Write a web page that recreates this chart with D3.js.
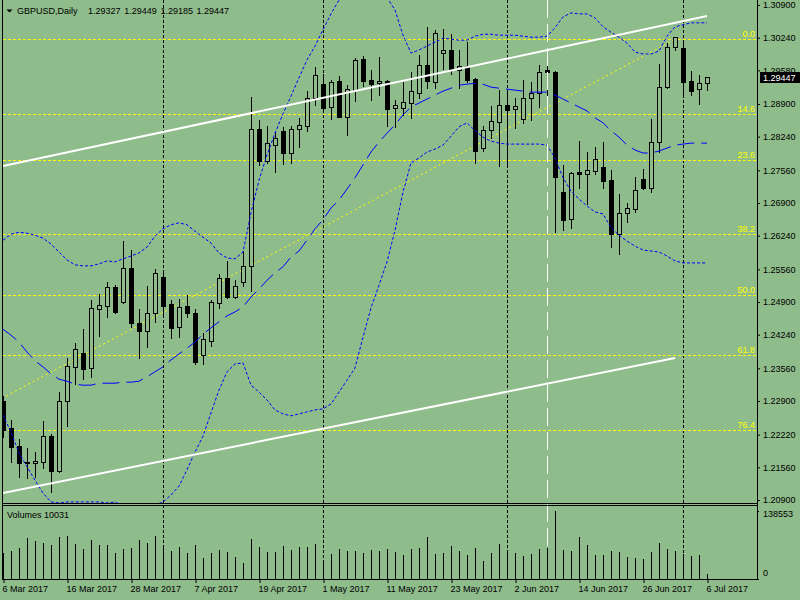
<!DOCTYPE html>
<html>
<head>
<meta charset="utf-8">
<script src="https://cdn.jsdelivr.net/npm/d3@7"></script>
<style>
  body { margin: 0; background: #8fbc8b; }
  svg { display: block; font-family: "Liberation Sans", Arial, sans-serif; font-size: 9px; }
</style>
</head>
<body>
<svg id="chart" width="800" height="600"></svg>
<script>
// GBPUSD daily bars, 6 Mar 2017 .. 6 Jul 2017
var opens = [1.22900,1.22355,1.21991,1.21668,1.21648,1.21668,1.22193,1.21486,1.22900,1.23587,
  1.23870,1.23567,1.24759,1.24819,1.25203,1.24900,1.25587,1.24476,1.24314,1.24678,
  1.25405,1.24860,1.24395,1.24819,1.24678,1.23829,1.24112,1.24880,1.25385,1.25001,
  1.25304,1.25627,1.28395,1.27749,1.28072,1.28355,1.27910,1.28395,1.28456,1.29021,
  1.29304,1.28839,1.29365,1.28637,1.29183,1.29809,1.29385,1.29324,1.29365,1.28819,
  1.28819,1.28920,1.29122,1.29688,1.29344,1.29930,1.29991,1.29587,1.29668,1.29405,
  1.28011,1.28375,1.28536,1.28880,1.28799,1.28597,1.29021,1.29122,1.29587,1.29547,
  1.27122,1.26577,1.27526,1.27486,1.27547,1.27627,1.27365,1.26274,1.26698,1.26779,
  1.27385,1.27203,1.28132,1.29243,1.30052,1.30031,1.29365,1.29203,1.29327];
var highs = [1.23001,1.22516,1.22132,1.21950,1.21870,1.22496,1.22233,1.23082,1.23769,1.24072,
  1.24355,1.24940,1.25062,1.25304,1.25243,1.26132,1.25951,1.24759,1.25223,1.25567,
  1.25547,1.24940,1.24961,1.25041,1.24759,1.24274,1.24940,1.25466,1.25728,1.25344,
  1.25930,1.29041,1.28577,1.28456,1.28334,1.28435,1.28456,1.28617,1.29163,1.29648,
  1.29506,1.29385,1.29466,1.29284,1.29829,1.29870,1.29587,1.29850,1.29385,1.28981,
  1.29344,1.29547,1.29890,1.30456,1.30395,1.30415,1.30314,1.29991,1.30153,1.29425,
  1.28456,1.28860,1.29183,1.29142,1.29021,1.29385,1.29344,1.29688,1.29749,1.29567,
  1.27668,1.27526,1.28153,1.27930,1.28031,1.28132,1.27567,1.27082,1.26900,1.27425,
  1.27587,1.28597,1.29708,1.30132,1.30254,1.30193,1.29567,1.29486,1.29449];
var lows = [1.22173,1.21668,1.21365,1.21344,1.21365,1.21547,1.21062,1.21466,1.22395,1.23243,
  1.23344,1.23385,1.24213,1.24597,1.24678,1.24880,1.24395,1.23769,1.23991,1.24496,
  1.24597,1.24173,1.24193,1.24597,1.23648,1.23648,1.24011,1.24779,1.24981,1.24981,
  1.25223,1.25122,1.27668,1.27708,1.27526,1.27688,1.27708,1.28031,1.28355,1.28880,
  1.28779,1.28597,1.28637,1.28274,1.28961,1.29264,1.28981,1.29082,1.28456,1.28435,
  1.28678,1.28617,1.29021,1.29223,1.29223,1.29607,1.29506,1.29223,1.29344,1.27708,
  1.27951,1.28213,1.27648,1.27627,1.28415,1.28516,1.28577,1.28839,1.29041,1.26314,
  1.26355,1.26395,1.27203,1.26880,1.27486,1.27203,1.26011,1.25870,1.26516,1.26718,
  1.27183,1.27122,1.27930,1.29223,1.29991,1.29082,1.29082,1.28900,1.29185];
var closes = [1.22314,1.21971,1.21648,1.21648,1.21688,1.22193,1.21486,1.22900,1.23607,1.23951,
  1.23547,1.24779,1.24839,1.25203,1.24698,1.25587,1.24476,1.24314,1.24678,1.25486,
  1.24819,1.24375,1.24799,1.24678,1.23688,1.24153,1.24900,1.25385,1.25001,1.25223,
  1.25627,1.28395,1.27749,1.28112,1.28213,1.27910,1.28395,1.28476,1.29021,1.29486,
  1.28819,1.29344,1.28637,1.29203,1.29789,1.29365,1.29304,1.29365,1.28799,1.28880,
  1.28940,1.29163,1.29688,1.29365,1.30334,1.29991,1.29587,1.29668,1.29385,1.27951,
  1.28375,1.28557,1.28880,1.28779,1.28860,1.29021,1.29122,1.29547,1.29547,1.27425,
  1.26557,1.27506,1.27486,1.27567,1.27789,1.27344,1.26274,1.26698,1.26799,1.27163,
  1.27203,1.28132,1.29243,1.30052,1.30254,1.29344,1.29163,1.29324,1.29447];
var volumes = [53600,57000,63200,84100,77400,74000,69300,86200,87600,71300,
  61100,79500,69300,69300,53600,61100,63200,79500,74000,87600,
  63200,57000,65200,53600,69300,42800,53600,59100,55000,44800,
  33200,81500,65200,55000,55000,67200,59100,65200,65200,71300,
  38700,50900,61100,57000,57000,53000,59100,57000,61100,55000,
  48900,61100,63200,85600,50900,53000,67200,57000,48900,63200,
  36700,53000,71300,55600,53000,46900,50900,61100,63200,138553,
  59100,57000,85600,69300,48900,48900,57000,55000,44800,42800,
  40800,55000,73400,61100,57000,50900,46900,48900,10031];

// Bollinger bands as drawn
var upperBand = [1.2615,1.2627,1.2631,1.2629,1.2625,1.2619,1.2607,1.2591,1.2575,1.2565,
  1.2563,1.2563,1.2567,1.2573,1.2571,1.2577,1.2583,1.2589,1.2601,1.2623,
  1.2638,1.2646,1.2650,1.2646,1.2633,1.2621,1.2609,1.2589,1.2579,1.2577,
  1.2591,1.2670,1.2736,1.2787,1.2831,1.2870,1.2906,1.2943,1.2979,1.3007,
  1.3040,1.3072,1.3100,1.3120,1.3135,1.3140,1.3135,1.3122,1.3105,1.3080,
  1.3029,1.2993,1.2999,1.3007,1.3015,1.3023,1.3021,1.3019,1.3019,1.3027,
  1.3031,1.3031,1.3029,1.3029,1.3029,1.3027,1.3025,1.3025,1.3027,1.3044,
  1.3066,1.3074,1.3072,1.3072,1.3064,1.3046,1.3035,1.3025,1.3013,1.2995,
  1.2991,1.2991,1.2997,1.3027,1.3046,1.3050,1.3054,1.3054,1.3054];
var middleBand = [1.2435,1.2423,1.2409,1.2389,1.2371,1.2359,1.2345,1.2334,1.2330,1.2324,
  1.2322,1.2322,1.2326,1.2326,1.2326,1.2328,1.2328,1.2330,1.2339,1.2349,
  1.2359,1.2373,1.2385,1.2397,1.2409,1.2425,1.2438,1.2450,1.2462,1.2470,
  1.2480,1.2500,1.2516,1.2534,1.2549,1.2561,1.2581,1.2593,1.2615,1.2638,
  1.2656,1.2680,1.2696,1.2718,1.2741,1.2767,1.2793,1.2813,1.2831,1.2848,
  1.2868,1.2884,1.2892,1.2900,1.2908,1.2916,1.2922,1.2928,1.2930,1.2932,
  1.2930,1.2924,1.2922,1.2920,1.2918,1.2916,1.2914,1.2914,1.2914,1.2908,
  1.2900,1.2892,1.2884,1.2876,1.2862,1.2852,1.2836,1.2823,1.2807,1.2797,
  1.2791,1.2791,1.2795,1.2801,1.2807,1.2809,1.2811,1.2811,1.2811];
var lowerBand = [1.2262,1.2227,1.2185,1.2157,1.2130,1.2104,1.2086,1.2084,1.2086,1.2086,
  1.2086,1.2086,1.2086,1.2084,1.2086,1.2078,1.2074,1.2074,1.2076,1.2080,
  1.2086,1.2100,1.2118,1.2151,1.2187,1.2219,1.2266,1.2312,1.2349,1.2365,
  1.2367,1.2322,1.2308,1.2292,1.2272,1.2264,1.2260,1.2264,1.2268,1.2272,
  1.2274,1.2284,1.2308,1.2332,1.2357,1.2419,1.2478,1.2524,1.2571,1.2635,
  1.2712,1.2771,1.2781,1.2793,1.2799,1.2807,1.2825,1.2844,1.2852,1.2836,
  1.2823,1.2815,1.2811,1.2809,1.2809,1.2809,1.2809,1.2809,1.2807,1.2781,
  1.2741,1.2714,1.2698,1.2684,1.2672,1.2668,1.2640,1.2625,1.2613,1.2603,
  1.2595,1.2593,1.2591,1.2583,1.2573,1.2569,1.2569,1.2569,1.2569];

// fibonacci retracement and trend lines (bar index, price)
var fibLabels = ["0.0", "14.6", "23.6", "38.2", "50.0", "61.8", "76.4"];
var fibPrices = [1.30207, 1.28692, 1.27763, 1.26268, 1.25035, 1.23823, 1.22308];
var fibLine = [[-36, 1.19864], [84, 1.30207]];
var channelTop = [[0, 1.27647], [88, 1.30678]];
var channelBottom = [[0, 1.21041], [84, 1.23769]];

// axis labels
var priceTicks = [1.30900, 1.30240, 1.29580, 1.28900, 1.28240, 1.27560, 1.26900, 1.26240,
  1.25560, 1.24900, 1.24240, 1.23560, 1.22900, 1.22220, 1.21560, 1.20900];
var dateTickBars = [0, 8, 16, 24, 32, 40, 48, 56, 64, 72, 80, 88];
var dateTickLabels = ["6 Mar 2017", "16 Mar 2017", "28 Mar 2017", "7 Apr 2017", "19 Apr 2017",
  "1 May 2017", "11 May 2017", "23 May 2017", "2 Jun 2017", "14 Jun 2017", "26 Jun 2017", "6 Jul 2017"];
var monthStartBars = [20, 40, 63, 85];
var eventBar = 68;
var headerOHLC = ["1.29327", "1.29449", "1.29185", "1.29447"];
var lastPrice = 1.29447;
var volMax = 138553;

var bg = "#8fbc8b";
var axisX = 757, mainBottom = 503, volTop = 505, volBottom = 579;

var svg = d3.select("#chart");

var x = d3.scaleLinear().domain([0, 88]).range([3, 707]);
var y = d3.scaleLinear().domain([1.20900, 1.30900]).range([500, 5]);
var yv = d3.scaleLinear().domain([0, volMax]).range([volBottom, 511]);

function px(i) { return Math.round(x(i)) + 0.5; }
function py(v) { return Math.round(y(v)); }

svg.append("rect").attr("width", 800).attr("height", 600).attr("fill", bg);

var defs = svg.append("defs");
defs.append("clipPath").attr("id", "mainClip")
  .append("rect").attr("x", 3).attr("y", 0).attr("width", axisX - 3).attr("height", mainBottom);

// month separators and event line
svg.append("g").selectAll("line").data(monthStartBars).enter().append("line")
  .attr("x1", px).attr("x2", px)
  .attr("y1", 0).attr("y2", volBottom)
  .attr("stroke", "#000").attr("stroke-dasharray", "3,2");

var main = svg.append("g").attr("clip-path", "url(#mainClip)");

// fib levels
main.append("g").selectAll("line").data(fibPrices).enter().append("line")
  .attr("x1", 3).attr("x2", axisX)
  .attr("y1", function (d) { return py(d) + 0.5; })
  .attr("y2", function (d) { return py(d) + 0.5; })
  .attr("stroke", "#ffff00").attr("stroke-dasharray", "3,2");

main.append("line")
  .attr("x1", x(fibLine[0][0])).attr("y1", y(fibLine[0][1]))
  .attr("x2", x(fibLine[1][0])).attr("y2", y(fibLine[1][1]))
  .attr("stroke", "#ffff00").attr("stroke-dasharray", "2,3");

main.append("g").selectAll("text").data(fibPrices).enter().append("text")
  .attr("x", 755).attr("y", function (d) { return py(d) - 2; })
  .attr("text-anchor", "end").attr("fill", "#ffff00")
  .text(function (d, i) { return fibLabels[i]; });

// event vertical line (white, long dashes)
svg.append("line")
  .attr("x1", px(eventBar)).attr("x2", px(eventBar))
  .attr("y1", 0).attr("y2", volBottom)
  .attr("stroke", "#fff").attr("stroke-dasharray", "18,6");

// candles
var bars = d3.range(opens.length).map(function (i) {
  return { i: i, o: opens[i], h: highs[i], l: lows[i], c: closes[i] };
});

var candle = main.append("g").selectAll("g").data(bars).enter().append("g");

candle.append("line")
  .attr("x1", function (d) { return px(d.i); })
  .attr("x2", function (d) { return px(d.i); })
  .attr("y1", function (d) { return py(d.h); })
  .attr("y2", function (d) { return py(d.l) + 1; })
  .attr("stroke", "#000");

candle.append("rect")
  .attr("x", function (d) { return px(d.i) - 2; })
  .attr("width", 4)
  .attr("y", function (d) { return py(Math.max(d.o, d.c)) + 0.5; })
  .attr("height", function (d) { return Math.max(py(Math.min(d.o, d.c)) - py(Math.max(d.o, d.c)), 1); })
  .attr("fill", function (d) { return d.c < d.o ? "#000" : bg; })
  .attr("stroke", "#000");

// bollinger bands
var line = d3.line()
  .x(function (d, i) { return x(i); })
  .y(function (d) { return y(d); });

main.append("path").datum(upperBand).attr("d", line)
  .attr("fill", "none").attr("stroke", "#0000ff").attr("stroke-dasharray", "3,2");
main.append("path").datum(lowerBand).attr("d", line)
  .attr("fill", "none").attr("stroke", "#0000ff").attr("stroke-dasharray", "3,2");
main.append("path").datum(middleBand).attr("d", line)
  .attr("fill", "none").attr("stroke", "#0000ff").attr("stroke-dasharray", "17,7");

// channel trend lines
[channelTop, channelBottom].forEach(function (t) {
  main.append("line")
    .attr("x1", x(t[0][0])).attr("y1", y(t[0][1]))
    .attr("x2", x(t[1][0])).attr("y2", y(t[1][1]))
    .attr("stroke", "#fff").attr("stroke-width", 2);
});

// volumes
svg.append("g").selectAll("line").data(volumes).enter().append("line")
  .attr("x1", function (d, i) { return px(i); })
  .attr("x2", function (d, i) { return px(i); })
  .attr("y1", volBottom)
  .attr("y2", function (d) { return Math.round(yv(d)); })
  .attr("stroke", "#000");

// frames
var frame = svg.append("g").attr("stroke", "#000").attr("fill", "none");
frame.append("line").attr("x1", 2.5).attr("x2", 2.5).attr("y1", 0).attr("y2", volBottom + 0.5);
frame.append("line").attr("x1", axisX + 0.5).attr("x2", axisX + 0.5).attr("y1", 0).attr("y2", volBottom + 0.5);
frame.append("line").attr("x1", 2).attr("x2", axisX + 1).attr("y1", mainBottom + 0.5).attr("y2", mainBottom + 0.5);
frame.append("line").attr("x1", 2).attr("x2", axisX + 1).attr("y1", volTop + 0.5).attr("y2", volTop + 0.5);
frame.append("line").attr("x1", 2).attr("x2", axisX + 1).attr("y1", volBottom + 0.5).attr("y2", volBottom + 0.5);

// price axis
var priceAxis = svg.append("g")
  .attr("transform", "translate(" + axisX + ",0)")
  .call(d3.axisRight(y).tickValues(priceTicks).tickSize(3).tickPadding(3)
    .tickFormat(d3.format(".5f")));
priceAxis.select(".domain").remove();
priceAxis.selectAll("text").attr("fill", "#000")
  .style("font-family", "Liberation Sans, Arial, sans-serif").style("font-size", "9px");

// last price box
svg.append("rect").attr("x", 760).attr("y", py(lastPrice) - 5).attr("width", 40).attr("height", 11)
  .attr("fill", "#000");
svg.append("text").attr("x", 763).attr("y", py(lastPrice) + 3.5).attr("fill", "#fff")
  .text(d3.format(".5f")(lastPrice));

// volume axis
var volAxis = svg.append("g")
  .attr("transform", "translate(" + axisX + ",0)")
  .call(d3.axisRight(yv).tickValues([volMax, 0]).tickSize(2).tickPadding(4)
    .tickFormat(d3.format("d")));
volAxis.select(".domain").remove();
volAxis.selectAll("text").attr("fill", "#000")
  .style("font-family", "Liberation Sans, Arial, sans-serif").style("font-size", "9px")
  .attr("dy", function (d) { return d === 0 ? "-0.35em" : "0.6em"; });

// date axis
var dateAxis = svg.append("g")
  .attr("transform", "translate(0," + (volBottom + 1) + ")")
  .call(d3.axisBottom(x).tickValues(dateTickBars).tickSize(3)
    .tickFormat(function (d, i) { return dateTickLabels[i]; }));
dateAxis.select(".domain").remove();
dateAxis.selectAll(".tick line").attr("transform", "translate(0.5,0)");
dateAxis.selectAll("text").attr("fill", "#000")
  .style("font-family", "Liberation Sans, Arial, sans-serif").style("font-size", "9px")
  .attr("text-anchor", "start").attr("x", -1).attr("y", 12).attr("dy", 0);

// header texts
svg.append("path").attr("d", "M6.5,9.5 L12.5,9.5 L9.5,12.5 Z").attr("fill", "#000");
svg.append("text").attr("x", 17).attr("y", 14).text("GBPUSD,Daily");
svg.append("g").selectAll("text").data(headerOHLC).enter().append("text")
  .attr("x", function (d, i) { return 88 + i * 36.2; }).attr("y", 14)
  .text(function (d) { return d; });
svg.append("text").attr("x", 7).attr("y", 518).text("Volumes " + volumes[volumes.length - 1]);
</script>
</body>
</html>
